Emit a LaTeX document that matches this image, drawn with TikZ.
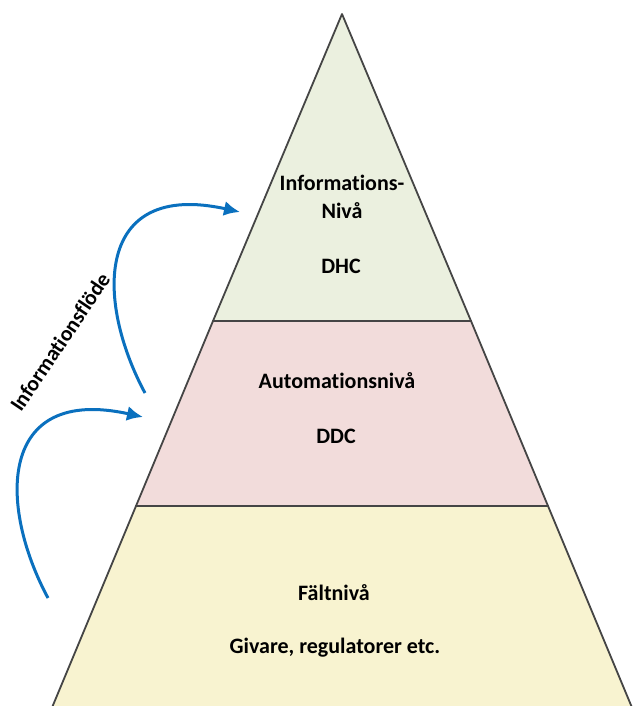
\documentclass[tikz,border=0pt]{standalone}
\usepackage{fontspec}
\setmainfont{Carlito}[Ligatures=NoCommon]
\usetikzlibrary{arrows.meta,positioning}
\definecolor{PyrGreen}{HTML}{EBF0DF}
\definecolor{PyrRose}{HTML}{F2DCDB}
\definecolor{PyrSand}{HTML}{F8F3D0}
\definecolor{PyrEdge}{HTML}{454545}
\definecolor{FlowBlue}{HTML}{0A70BE}
\tikzset{
  level/.style={draw=PyrEdge, line width=1.8pt, line join=round},
  label/.style={font=\fontsize{22}{28}\selectfont\bfseries, align=center, inner sep=0pt},
  flow/.style={-{Latex[length=16pt,width=15pt]}, line width=3pt, draw=FlowBlue},
}
\begin{document}
\begin{tikzpicture}[x=1pt,y=-1pt]
    \useasboundingbox (0,0) rectangle (633,706);
    \clip (0,0) rectangle (633,706);
    % levels of the pyramid
    \filldraw[level, fill=PyrSand] (136,506) -- (548,506) -- (638,722) -- (46,722) -- cycle;
    \filldraw[level, fill=PyrRose] (213,321) -- (471,321) -- (548,506) -- (136,506) -- cycle;
    \filldraw[level, fill=PyrGreen] (342,14) -- (471,321) -- (213,321) -- cycle;
    \node[label] (info) at (342,197) {Informations-\\Nivå};
    \node[label] (dhc) at (341,266) {DHC};
    \node[label] (auto) at (337,381) {Automationsnivå};
    \node[label] (ddc) at (336,436) {DDC};
    \node[label] (falt) at (334,593) {Fältnivå};
    \node[label] (givare) at (335,648) {Givare, regulatorer etc.};
    % information flow
    \coordinate (lowstart) at (48,598);
    \coordinate (lowend) at (143,417);
    \coordinate (upstart) at (145,393);
    \coordinate (upend) at (240,212);
    \draw[flow] (lowstart) .. controls (-2,505) and (-2,385) .. (lowend);
    \draw[flow] (upstart) .. controls (95,300) and (95,180) .. (upend);
    \node[font=\fontsize{21.5}{24}\selectfont\bfseries, rotate=56, inner sep=0pt] (flowtext) at (60,342) {Informationsflöde};
  \end{tikzpicture}
\end{document}
